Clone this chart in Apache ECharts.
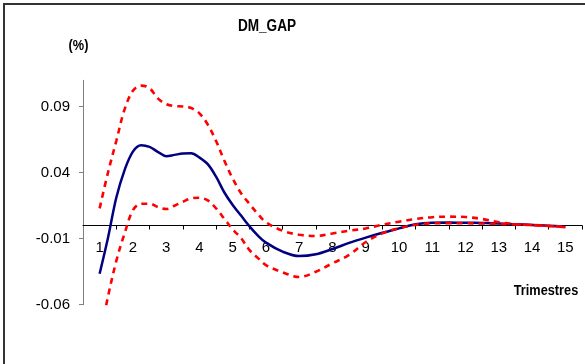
<!DOCTYPE html>
<html>
<head>
<meta charset="utf-8">
<script src="https://cdn.jsdelivr.net/npm/echarts@6/dist/echarts.min.js"></script>
<style>
  html, body { margin: 0; padding: 0; background: #fff; }
  #chart { width: 585px; height: 364px; }
</style>
</head>
<body>
<div id="chart"></div>
<script>
// Quarter positions (trimestres) at which the curves were read
const quarterX = [1,1.25,1.5,1.75,2,2.25,2.5,2.75,3,3.25,3.5,3.75,4,4.25,4.5,4.75,5,5.25,5.5,5.75,6,6.5,7,7.5,8,8.5,9,9.5,10,10.5,11,11.5,12,12.5,13,13.5,14,14.5,15];
// Central impulse response
const irfMid = [-0.0365,-0.0095,0.021,0.042,0.056,0.0608,0.0595,0.0558,0.0525,0.0535,0.0545,0.0547,0.0515,0.0465,0.037,0.025,0.0155,0.0075,-0.0005,-0.0075,-0.013,-0.0198,-0.0232,-0.0218,-0.0178,-0.0132,-0.0092,-0.0055,-0.0022,0.001,0.0021,0.0022,0.0021,0.0019,0.0016,0.001,0.0004,-0.0002,-0.0009];
// Upper confidence band
const irfUpper = [0.013,0.040,0.064,0.088,0.102,0.106,0.104,0.0963,0.092,0.0905,0.0902,0.089,0.085,0.0765,0.064,0.049,0.0355,0.0245,0.0165,0.009,0.0025,-0.004,-0.007,-0.008,-0.006,-0.004,-0.0022,0.0006,0.0029,0.0049,0.0063,0.0067,0.0064,0.0049,0.0025,0.001,0.0004,-0.0004,-0.0013];
// Lower confidence band
const irfLower = [-0.085,-0.054,-0.027,-0.006,0.0115,0.0165,0.0165,0.014,0.0125,0.015,0.018,0.0205,0.021,0.019,0.013,0.005,-0.003,-0.0095,-0.0185,-0.0245,-0.030,-0.0355,-0.039,-0.035,-0.0286,-0.0223,-0.0125,-0.006,-0.002,0.0005,0.0017,0.0018,0.0017,0.0015,0.0012,0.0008,0.0002,-0.0004,-0.001];
// Axis tick labels
const xTickLabels = [1,2,3,4,5,6,7,8,9,10,11,12,13,14,15];
const xTickMarks = [1.5,2.5,3.5,4.5,5.5,6.5,7.5,8.5,9.5,10.5,11.5,12.5,13.5,14.5,15.5];
const yTickLabels = [-0.06,-0.01,0.04,0.09];

const titleText = 'DM_GAP';
const yUnitText = '(%)';
const xNameText = 'Trimestres';

const FONT = "'Liberation Sans Narrow','Arial Narrow','Liberation Sans',Arial,sans-serif";
const pairs = ys => quarterX.map((x, i) => [x, ys[i]]);

const Y_MIN = -0.06, Y_MAX = 0.11;
const GRID_TOP = 80.3, GRID_BOTTOM = 59.3, CH = 364;
// offset that lifts the bottom x axis up to the value 0 of the y axis
const plotH = CH - GRID_TOP - GRID_BOTTOM;
const zeroOffset = -plotH * (0 - Y_MIN) / (Y_MAX - Y_MIN);

const chart = echarts.init(document.getElementById('chart'), null, { renderer: 'canvas' });
chart.setOption({
  animation: false,
  backgroundColor: '#ffffff',
  grid: { left: 83, right: 3, top: GRID_TOP, bottom: GRID_BOTTOM, containLabel: false },
  xAxis: {
    type: 'value', min: 0.5, max: 15.5, position: 'bottom', offset: zeroOffset,
    axisLine: { show: true, onZero: false, lineStyle: { color: '#000', width: 1 } },
    axisTick: { show: true, length: 4, customValues: xTickMarks, lineStyle: { color: '#000' } },
    axisLabel: { customValues: xTickLabels, margin: 15, fontSize: 15, color: '#000', fontFamily: FONT },
    splitLine: { show: false }
  },
  yAxis: {
    type: 'value', min: Y_MIN, max: Y_MAX,
    axisLine: { show: true, onZero: false, lineStyle: { color: '#808080', width: 1 } },
    axisTick: { show: true, length: 4, customValues: yTickLabels, lineStyle: { color: '#808080' } },
    axisLabel: { customValues: yTickLabels, margin: 13, fontSize: 15, color: '#000', fontFamily: FONT,
      formatter: v => v.toFixed(2) },
    splitLine: { show: false }
  },
  series: [
    { name: 'mid', type: 'line', data: pairs(irfMid), showSymbol: false, smooth: 0.35,
      lineStyle: { color: '#000080', width: 2.5 }, z: 2 },
    { name: 'upper', type: 'line', data: pairs(irfUpper), showSymbol: false, smooth: 0.35,
      lineStyle: { color: '#ff0000', width: 2.6, type: [6, 5] }, z: 3 },
    { name: 'lower', type: 'line', data: pairs(irfLower), showSymbol: false, smooth: 0.35,
      lineStyle: { color: '#ff0000', width: 2.6, type: [6, 5] }, z: 3 }
  ],
  graphic: [
    { type: 'rect', shape: { x: 4, y: 4, width: 700, height: 500 }, silent: true,
      style: { fill: null, stroke: '#333', lineWidth: 2 } },
    { type: 'text', x: 267, y: 27, scaleX: 0.85, style: { text: titleText, font: "bold 16px 'Liberation Sans',Arial,sans-serif",
      fill: '#000', align: 'center', verticalAlign: 'middle' } },
    { type: 'text', x: 78.5, y: 46, scaleX: 0.85, style: { text: yUnitText, font: "bold 15px 'Liberation Sans',Arial,sans-serif",
      fill: '#000', align: 'center', verticalAlign: 'middle' } },
    { type: 'text', x: 546, y: 291, scaleX: 0.85, style: { text: xNameText, font: "bold 15px 'Liberation Sans',Arial,sans-serif",
      fill: '#000', align: 'center', verticalAlign: 'middle' } }
  ]
});
</script>
</body>
</html>
